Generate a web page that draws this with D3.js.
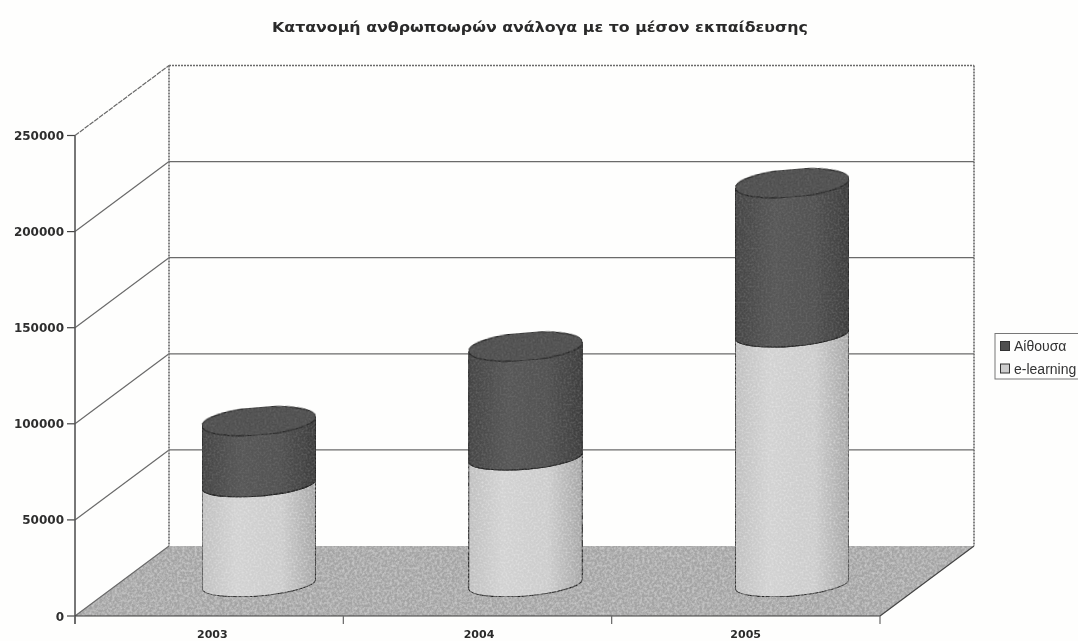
<!DOCTYPE html>
<html><head><meta charset="utf-8">
<script src="https://cdnjs.cloudflare.com/ajax/libs/d3/7.8.5/d3.min.js"></script>
<style>html,body{margin:0;padding:0;background:#fefefd;overflow:hidden}svg{display:block;font-family:"Liberation Sans",Arial,sans-serif}</style>
</head><body><svg id="c" width="1078" height="641"></svg>
<script>
const years = ["2003","2004","2005"];
const elearning = [52000,66000,130000];
const aithousa = [32700,57500,78500];
const yTicks = [0,50000,100000,150000,200000,250000];
const titleText = "Κατανομή ανθρωποωρών ανάλογα με το μέσον εκπαίδευσης";
const legendItems = ["Αίθουσα","e-learning"];

const svg = d3.select("#c");
const defs = svg.append("defs");
const y = d3.scaleLinear().domain([0,250000]).range([616,135.5]);
const xFront = d3.scaleLinear().domain([0,3]).range([75,880]);
const xCyl = d3.scaleBand().domain(years).range([125.5,925.5]);
const DX=94, DY=-70, cylY=-32, rx=57, tilt=-4.8, ry=12, ryTop=14;

function grainFilter(id,freq,seed,slope,off,tone){
 const f=defs.append("filter").attr("id",id).attr("x",0).attr("y",0).attr("width",1).attr("height",1);
 f.append("feTurbulence").attr("type","fractalNoise").attr("baseFrequency",freq).attr("numOctaves",2).attr("seed",seed).attr("result","n");
 f.append("feColorMatrix").attr("in","n").attr("type","matrix").attr("values",`0 0 0 0 ${tone}  0 0 0 0 ${tone}  0 0 0 0 ${tone}  ${slope} 0 0 0 ${off}`).attr("result","g");
 f.append("feComposite").attr("in","g").attr("in2","SourceAlpha").attr("operator","in").attr("result","gc");
 f.append("feMerge").selectAll("feMergeNode").data(["SourceGraphic","gc"]).join("feMergeNode").attr("in",d=>d);
}
grainFilter("grainDark",0.5,4,0.9,-0.36,0.2);
grainFilter("grainLight",0.5,7,0.8,-0.33,0.95);
grainFilter("grainFloor",0.4,9,0.9,-0.32,0.85);
const soft=defs.append("filter").attr("id","soft").attr("x",-0.02).attr("y",-0.02).attr("width",1.04).attr("height",1.04);
soft.append("feGaussianBlur").attr("stdDeviation",0.6);

function grad(id,stops){const g=defs.append("linearGradient").attr("id",id).attr("x1",0).attr("x2",1).attr("y1",0).attr("y2",0);
 g.selectAll("stop").data(stops).join("stop").attr("offset",d=>d[0]).attr("stop-color",d=>d[1]);}
grad("dark",[[0,"#464646"],[0.35,"#585858"],[0.7,"#525252"],[1,"#3e3e3e"]]);
grad("light",[[0,"#c0c0c0"],[0.3,"#d2d2d2"],[0.7,"#cccccc"],[1,"#a6a6a6"]]);

const root=svg.append("g").attr("filter","url(#soft)");
const wall=root.append("g").attr("fill","none");
const wallCol="#6a6a6a";
const L=xFront(0), R=xFront(3);
root.insert("path",":first-child").attr("d",`M${L},${y(0)}L${R},${y(0)}L${R+DX},${y(0)+DY}L${L+DX},${y(0)+DY}Z`).attr("fill","#a4a4a4").attr("filter","url(#grainFloor)");
yTicks.forEach(t=>{
 const top=t===250000;
 wall.append("line").attr("x1",L).attr("y1",y(t)).attr("x2",L+DX).attr("y2",y(t)+DY).attr("stroke",wallCol).attr("stroke-width",1.2).attr("stroke-dasharray",top?"5 1":null);
 if(t>0) wall.append("line").attr("x1",L+DX).attr("y1",y(t)+DY).attr("x2",R+DX).attr("y2",y(t)+DY).attr("stroke",wallCol).attr("stroke-width",top?1.6:1.3).attr("stroke-dasharray",top?"2 1":null);
 wall.append("line").attr("x1",L-8).attr("y1",y(t)).attr("x2",L).attr("y2",y(t)).attr("stroke","#444").attr("stroke-width",1.2);
});
wall.append("line").attr("x1",L).attr("y1",y(250000)).attr("x2",L).attr("y2",y(0)+8).attr("stroke","#555").attr("stroke-width",1.6);
[L+DX,R+DX].forEach(x=>wall.append("line").attr("x1",x).attr("y1",y(250000)+DY).attr("x2",x).attr("y2",y(0)+DY).attr("stroke","#777").attr("stroke-width",1.8).attr("stroke-dasharray","2 1"));
wall.append("line").attr("x1",L).attr("y1",y(0)).attr("x2",R).attr("y2",y(0)).attr("stroke","#3a3a3a").attr("stroke-width",1.2);
wall.append("line").attr("x1",R).attr("y1",y(0)).attr("x2",R+DX).attr("y2",y(0)+DY).attr("stroke","#444").attr("stroke-width",1.2);
d3.range(0,4).forEach(i=>wall.append("line").attr("x1",xFront(i)).attr("y1",y(0)).attr("x2",xFront(i)).attr("y2",y(0)+8).attr("stroke","#666").attr("stroke-width",1.2));

const boldFont='"DejaVu Sans",sans-serif';
root.selectAll(".yl").data(yTicks).join("text").attr("x",64).attr("y",t=>y(t)+4.5).attr("text-anchor","end")
 .attr("font-family",boldFont).attr("font-size",12).attr("font-weight","bold").attr("fill","#2e2e2e").text(t=>t);
root.selectAll(".xl").data(years).join("text").attr("x",d=>xCyl(d)+xCyl.bandwidth()/2-46.5).attr("y",638).attr("text-anchor","middle")
 .attr("font-family",boldFont).attr("font-size",11).attr("font-weight","bold").attr("fill","#2a2a2a").text(d=>d);
root.append("text").attr("x",540).attr("y",32).attr("text-anchor","middle").attr("font-family",boldFont).attr("font-size",14.5).attr("font-weight","bold").attr("fill","#2a2a2a")
 .attr("textLength",536).attr("lengthAdjust","spacingAndGlyphs").text(titleText);

const rad=tilt*Math.PI/180, ex=rx*Math.cos(rad), ey=rx*Math.sin(rad);
function seg(cx,y0,y1,fill,flt){
 const d=`M${cx-ex},${y1-ey}L${cx-ex},${y0-ey}A${rx},${ry} ${tilt} 0 0 ${cx+ex},${y0+ey}L${cx+ex},${y1+ey}A${rx},${ry} ${tilt} 0 1 ${cx-ex},${y1-ey}Z`;
 root.append("path").attr("d",d).attr("fill",fill).attr("stroke","#222").attr("stroke-width",1.1).attr("filter",flt);
}
years.forEach((yr,i)=>{
 const cx=xCyl(yr)+xCyl.bandwidth()/2;
 const y0=y(0)+cylY, y1=y(elearning[i])+cylY, y2=y(elearning[i]+aithousa[i])+cylY;
 seg(cx,y0,y1,"url(#light)","url(#grainLight)");
 seg(cx,y1,y2,"url(#dark)","url(#grainDark)");
 root.append("ellipse").attr("cx",0).attr("cy",0).attr("rx",rx).attr("ry",ryTop)
  .attr("transform",`translate(${cx},${y2}) rotate(${tilt})`).attr("fill","#505050").attr("stroke","#222").attr("stroke-width",1.1).attr("filter","url(#grainDark)");
});

const lg=root.append("g");
lg.append("rect").attr("x",995).attr("y",333.5).attr("width",100).attr("height",45.5).attr("fill","#fefefd").attr("stroke","#777");
const lc=["#505050","#cdcdcd"];
legendItems.forEach((t,i)=>{
 lg.append("rect").attr("x",1000.5).attr("y",341.5+i*22.5).attr("width",9).attr("height",9).attr("fill",lc[i]).attr("stroke","#333");
 lg.append("text").attr("x",1014).attr("y",351+i*23).attr("font-size",14).attr("fill","#333").text(t);
});
</script></body></html>
